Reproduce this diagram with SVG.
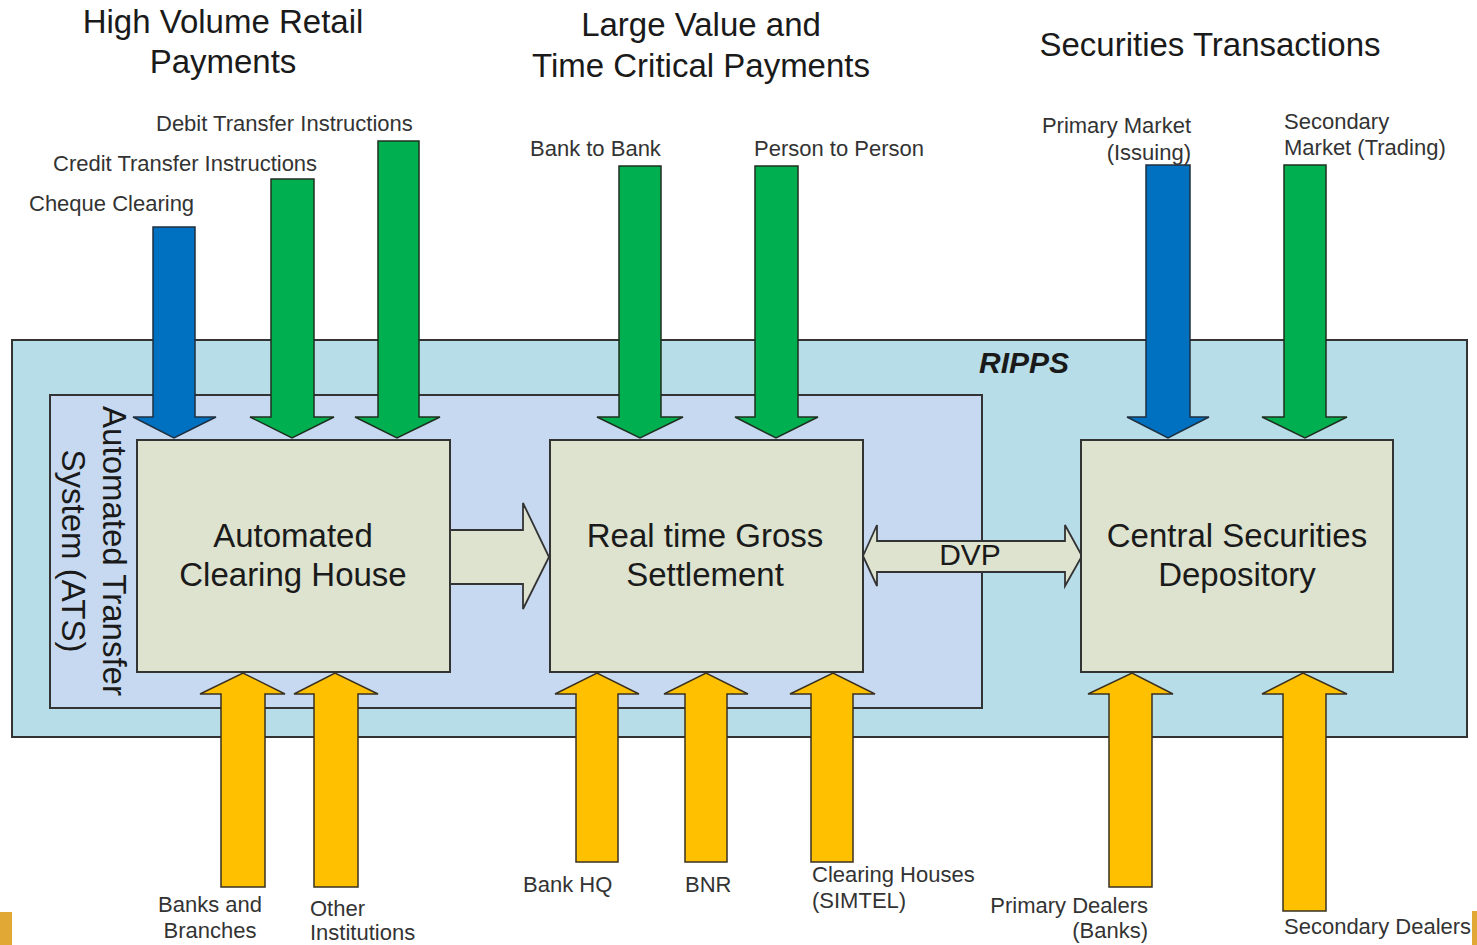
<svg xmlns="http://www.w3.org/2000/svg" width="1477" height="945" viewBox="0 0 1477 945">
<style>
text{font-family:"Liberation Sans",Arial,sans-serif;fill:#1a1a1a}
.title{font-size:33px}
.box{font-size:33px;text-anchor:middle}
.lbl{font-size:22px;fill:#333}
.blue{fill:#0070c0;stroke:#1f2f3f;stroke-width:1.5}
.green{fill:#00b050;stroke:#1f2f1f;stroke-width:1.5}
.yellow{fill:#ffc000;stroke:#3a3020;stroke-width:1.5}
.node{fill:#dde3cf;stroke:#333;stroke-width:2}
.conn{fill:#dde3cf;stroke:#333;stroke-width:1.8;stroke-linejoin:miter}
</style>
<rect width="1477" height="945" fill="#fff"/>
<rect x="0" y="912" width="12" height="33" fill="#e2a835"/>
<rect x="1472" y="911" width="5" height="34" fill="#e2a835"/>

<g id="titles">
<text class="title" x="223" y="33" text-anchor="middle">High Volume Retail</text>
<text class="title" x="223" y="73" text-anchor="middle">Payments</text>
<text class="title" x="701" y="36" text-anchor="middle">Large Value and</text>
<text class="title" x="701" y="77" text-anchor="middle">Time Critical Payments</text>
<text class="title" x="1210" y="56" text-anchor="middle">Securities Transactions</text>
</g>

<g id="ripps">
<rect x="12" y="340" width="1455" height="397" fill="#b7dde8" stroke="#333" stroke-width="2"/>
<text x="1024" y="373" text-anchor="middle" font-size="30" font-weight="bold" font-style="italic">RIPPS</text>
</g>

<g id="ats">
<rect x="50" y="395" width="932" height="313" fill="#c6d9f0" stroke="#333" stroke-width="2"/>
<text class="box" transform="translate(103,551) rotate(90)">Automated Transfer</text>
<text class="box" transform="translate(62,551) rotate(90)">System (ATS)</text>
</g>

<g id="connectors">
<path class="conn" d="M450,530 H523 V503 L549,557 L523,609 V584 H450 Z"/>
<path class="conn" d="M863,556 L877,525 V541 H1065 V525 L1082,556 L1065,586 V572 H877 V586 Z"/>
<!-- down arrows -->
<path class="blue" d="M153,227 H195 V417 H216 L174,438 L133,417 H153 Z"/>
<path class="green" d="M271,179 H314 V417 H334 L292,438 L250,417 H271 Z"/>
<path class="green" d="M378,141 H419 V417 H440 L397,438 L355,417 H378 Z"/>
<path class="green" d="M619,166 H661 V417 H683 L640,438 L597,417 H619 Z"/>
<path class="green" d="M755,166 H798 V417 H818 L776,438 L735,417 H755 Z"/>
<path class="blue" d="M1146,165 H1190 V417 H1209 L1168,438 L1127,417 H1146 Z"/>
<path class="green" d="M1284,165 H1326 V417 H1347 L1305,438 L1262,417 H1284 Z"/>
<!-- up arrows -->
<path class="yellow" d="M221,887 V694 H200 L243,673 L285,694 H265 V887 Z"/>
<path class="yellow" d="M314,887 V694 H294 L335,673 L378,694 H358 V887 Z"/>
<path class="yellow" d="M576,862 V694 H555 L597,673 L639,694 H618 V862 Z"/>
<path class="yellow" d="M685,862 V694 H664 L706,673 L748,694 H727 V862 Z"/>
<path class="yellow" d="M811,862 V694 H790 L833,673 L875,694 H853 V862 Z"/>
<path class="yellow" d="M1109,887 V694 H1088 L1132,673 L1173,694 H1152 V887 Z"/>
<path class="yellow" d="M1283,911 V694 H1262 L1303,673 L1347,694 H1326 V911 Z"/>
<text x="970" y="565" text-anchor="middle" font-size="30">DVP</text>
</g>

<g id="ach">
<rect class="node" x="137" y="440" width="313" height="232"/>
<text class="box" x="293" y="547">Automated</text>
<text class="box" x="293" y="586">Clearing House</text>
</g>
<g id="rtgs">
<rect class="node" x="550" y="440" width="313" height="232"/>
<text class="box" x="705" y="547">Real time Gross</text>
<text class="box" x="705" y="586">Settlement</text>
</g>
<g id="csd">
<rect class="node" x="1081" y="440" width="312" height="232"/>
<text class="box" x="1237" y="547">Central Securities</text>
<text class="box" x="1237" y="586">Depository</text>
</g>

<g id="labels">
<text class="lbl" x="156" y="131">Debit Transfer Instructions</text>
<text class="lbl" x="53" y="171">Credit Transfer Instructions</text>
<text class="lbl" x="29" y="211">Cheque Clearing</text>
<text class="lbl" x="530" y="156">Bank to Bank</text>
<text class="lbl" x="754" y="156">Person to Person</text>
<text class="lbl" x="1191" y="133" text-anchor="end">Primary Market</text>
<text class="lbl" x="1191" y="160" text-anchor="end">(Issuing)</text>
<text class="lbl" x="1284" y="129">Secondary</text>
<text class="lbl" x="1284" y="155">Market (Trading)</text>
<text class="lbl" x="210" y="912" text-anchor="middle">Banks and</text>
<text class="lbl" x="210" y="938" text-anchor="middle">Branches</text>
<text class="lbl" x="310" y="916">Other</text>
<text class="lbl" x="310" y="940">Institutions</text>
<text class="lbl" x="523" y="892">Bank HQ</text>
<text class="lbl" x="685" y="892">BNR</text>
<text class="lbl" x="812" y="882">Clearing Houses</text>
<text class="lbl" x="812" y="908">(SIMTEL)</text>
<text class="lbl" x="1148" y="913" text-anchor="end">Primary Dealers</text>
<text class="lbl" x="1148" y="938" text-anchor="end">(Banks)</text>
<text class="lbl" x="1284" y="934">Secondary Dealers</text>
</g>
</svg>
